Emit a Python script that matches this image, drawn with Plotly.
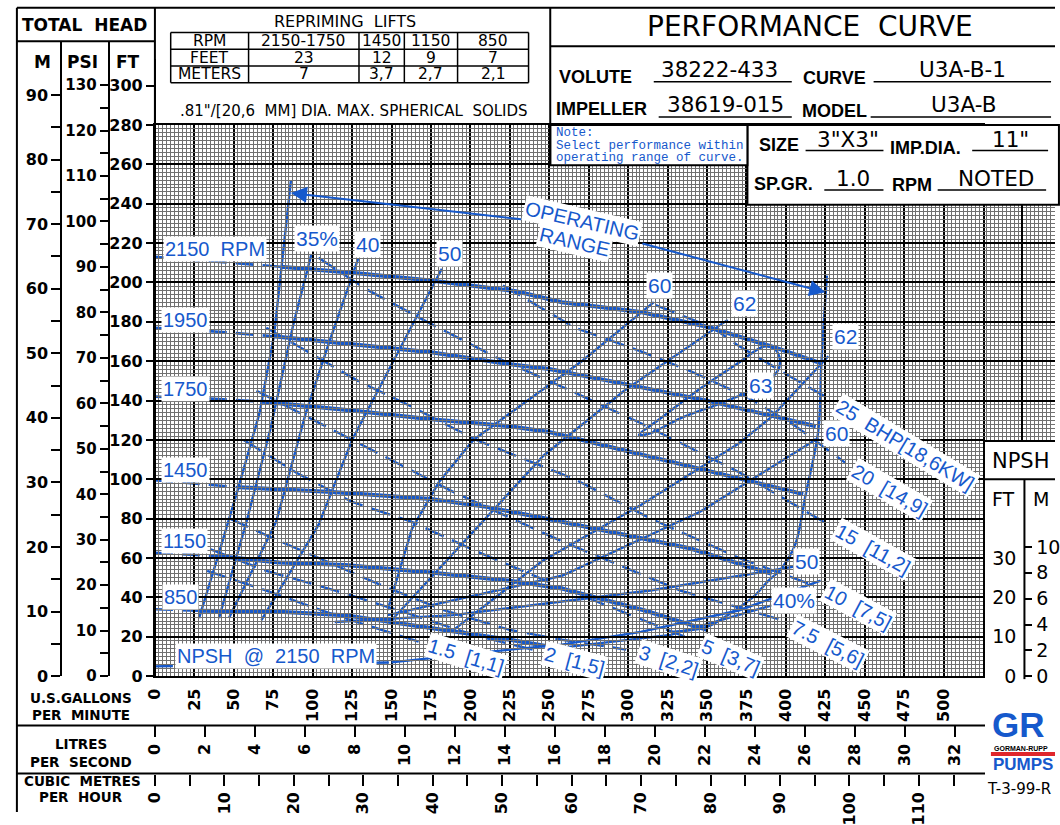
import plotly.graph_objects as go

# ------------------------------------------------------------------ data
GPM_TICKS = list(range(0, 501, 25))
LPS_TICKS = list(range(0, 33, 2))
M3H_TICKS = list(range(0, 111, 10))
M3H_MINOR = list(range(5, 116, 10))
FT_TICKS = list(range(0, 301, 20))
PSI_TICKS = list(range(0, 131, 10))
PSI_MINOR = list(range(5, 126, 10))
M_TICKS = list(range(0, 91, 10))
M_MINOR = list(range(5, 86, 10))
NPSH_FT_TICKS = [0, 10, 20, 30]
NPSH_M_TICKS = [0, 2, 4, 6, 8, 10]

# head-capacity curves (US GPM, FT); first DASH_N points form the dashed lead-in
Q_2150 = [0, 40, 80, 125, 175, 229, 258, 308, 350, 391, 422]
H_2150 = [213, 210.5, 208, 205, 201, 195.5, 190, 185, 177.5, 167.5, 159]
Q_1950 = [0, 40, 75, 125, 175, 225, 250, 297.5, 350, 419]
H_1950 = [177, 175, 172.7, 168.5, 164.5, 158.5, 156, 148.5, 140, 127]
Q_1750 = [0, 35, 67, 125, 175, 225, 250, 329, 411]
H_1750 = [142, 141, 139.5, 135, 130.5, 127, 124, 108.5, 92.5]
Q_1450 = [0, 30, 53, 112.5, 175, 210, 245.6, 339, 391]
H_1450 = [99.5, 97.5, 96, 93.5, 90, 86, 80.5, 65, 52]
Q_1150 = [0, 20, 40, 78.8, 120.6, 175, 225, 258, 310, 350]
H_1150 = [62.7, 62, 61, 57.7, 56.5, 52.7, 48.5, 44.5, 33.5, 23.5]
Q_850 = [0, 15, 28, 78.8, 120.6, 172.5, 225, 258]
H_850 = [34, 33.6, 33.3, 32.7, 31, 25, 18.5, 14]
DASH_N = [3, 3, 3, 3, 3, 3]
RPM_LABELS = ["2150  RPM", "1950", "1750", "1450", "1150", "850"]
RPM_LABEL_Q = [38, 19.5, 19.5, 19.5, 18.5, 16.5]
RPM_LABEL_H = [217, 181, 146, 104.5, 68.5, 40]

# NPSH at 2150 RPM (US GPM, NPSH FT)
NPSH_Q = [0, 75, 150, 172.5, 225, 258, 308, 370.6, 422]
NPSH_H = [2.5, 3, 3.5, 4.5, 6.75, 8, 11.25, 16.75, 24.25]
NPSH_DASH_N = 3

# operating range boundaries (US GPM, FT)
OPL_Q = [86.25, 80.6, 75.6, 66.25, 53, 40, 28]
OPL_H = [252, 209.5, 173.5, 133.5, 96, 61, 29.5]
OPR_Q = [426, 422.5, 420.6, 412.5, 406, 397.5, 389, 379, 365, 350, 327]
OPR_H = [203.5, 158.5, 125, 92, 67, 55, 48.5, 40, 32, 25, 22.5]

# efficiency contours (US GPM, FT)
E35_Q = [99.2, 87.7, 73.1, 58.1, 40.6]
E35_H = [214.4, 178.5, 125.2, 78.5, 29.5]
E40_Q = [128.8, 110, 95.6, 76.9, 46.9]
E40_H = [212, 168.5, 133.5, 78.5, 29.5]
E50_Q = [181.9, 162.5, 141.3, 125, 103.8, 67.5]
E50_H = [207, 177, 145, 120, 77, 28.5]
E60L_Q = [316.3, 270.6, 201.9, 180, 163, 147.5]
E60L_H = [190, 160, 120, 98.5, 75, 33.5]
E62L_Q = [363.1, 297.5, 246.3, 202, 149]
E62L_H = [181, 145, 112, 73.5, 27.5]
E62R_Q = [426.9, 391.3, 370.6, 308.1, 245.6, 189.4]
E62R_H = [162.5, 132, 118.5, 87, 58.5, 23.5]
E60R_Q = [420.6, 345.6, 258, 147.5]
E60R_H = [121, 83.5, 51, 31]
E50R_Q = [408, 314, 189, 114]
E50R_H = [56, 43.5, 31, 27.5]
E40R_Q = [391, 327, 258]
E40R_H = [36, 21, 14.5]
E63_Q = [306.9, 320.6, 345.6, 370.6, 386.25, 393.1, 396.25, 394.4, 380, 358.1, 333.1, 314.4, 306.9]
E63_H = [122.5, 131, 146, 159.5, 167.5, 166, 160.5, 154.5, 146, 138.5, 131, 123.5, 122.5]
EFF_LABELS = ["35%", "40", "50", "60", "62", "62", "63", "60", "50", "40%"]
EFF_LABEL_Q = [102.5, 135, 187, 320, 374, 437.5, 384, 432, 413, 405]
EFF_LABEL_H = [222.5, 219.5, 214.5, 198.5, 189.5, 172.5, 147.5, 123.5, 58.5, 38.5]

# brake horsepower lines (US GPM, FT)
B25_Q = [317.5, 353.75, 368.75, 400, 425]
B25_H = [188.5, 177, 168.5, 153.5, 142]
B20_Q = [220.6, 266.25, 308.1, 339.4, 375, 406.25, 437.5]
B20_H = [198.5, 177, 165, 155, 142, 127, 108.5]
B15_Q = [103.75, 133.1, 172.5, 216.25, 258.1, 308.1, 370.6, 426.9]
B15_H = [212.5, 197, 180, 162, 147, 128.5, 103.5, 77]
B10_Q = [70.6, 100, 128.75, 162.5, 203.75, 266.25, 314.4, 370.6, 414.4]
B10_H = [177, 163.5, 150, 137, 120, 100, 80, 60, 47]
B75_Q = [64.4, 125, 189.4, 258.1, 333.1, 397.5]
B75_H = [145, 120, 93.5, 68.5, 43.5, 28.5]
B5_Q = [56.25, 89.4, 125, 162.5, 203.75, 258.1, 340.6]
B5_H = [120, 103.5, 88.5, 78.5, 63.5, 45, 18.5]
B3_Q = [47.5, 75, 112.5, 141.25, 183.1, 225, 258.1, 298.75]
B3_H = [80, 70, 57, 47, 33.5, 23.5, 18.5, 13.5]
B2_Q = [35, 70.6, 114.4, 158.1, 201.9, 239.4]
B2_H = [64.5, 53.5, 43.5, 32.5, 21, 13.5]
B15S_Q = [33.1, 70.6, 114.4, 169.4]
B15S_H = [53.5, 43.5, 31, 17]
BHP_LABELS = ["25  BHP[18,6KW]", "20  [14,9]", "15  [11,2]", "10  [7,5]", "7.5  [5,6]",
              "5  [3,7]", "3  [2,2]", "2  [1,5]", "1.5  [1,1]"]
BHP_LABEL_Q = [475.6, 465.6, 455, 445.6, 427, 365, 325.6, 266, 197]
BHP_LABEL_H = [117.5, 94.5, 64.5, 35, 16.5, 9.5, 7.5, 7.5, 10]
BHP_LABEL_ANG = [31, 30, 29, 28, 27, 23, 18, 15, 17]

# repriming lifts table
REPRIME_RPM = ["2150-1750", "1450", "1150", "850"]
REPRIME_FEET = ["23", "12", "9", "7"]
REPRIME_METERS = ["7", "3,7", "2,7", "2,1"]

# ------------------------------------------------------------------ styling
W, HGT = 1060, 825
BLUE = "#1659cc"
BLK = "black"
MINOR = "#707070"
SANS = "DejaVu Sans"
ARIAL = "Liberation Sans"


def px(x):
    return x / W


def py(y):
    return 1 - y / HGT


XD = [px(147), px(987)]
YD = [py(687), py(127)]

fig = go.Figure()


def line(q, h, width=2.4, dash="solid", yaxis="y", shape="linear"):
    fig.add_trace(go.Scatter(x=q, y=h, mode="lines", xaxis="x", yaxis=yaxis,
                             line=dict(color=BLUE, width=width, dash=dash, shape=shape),
                             hoverinfo="skip", showlegend=False))


# head curves
for q, h, n in zip([Q_2150, Q_1950, Q_1750, Q_1450, Q_1150, Q_850],
                   [H_2150, H_1950, H_1750, H_1450, H_1150, H_850], DASH_N):
    line(q[:n], h[:n], width=2.6, dash="18px,9px")
    line(q[n - 1:], h[n - 1:], width=4)

# efficiency contours
for q, h in [(E35_Q, E35_H), (E40_Q, E40_H), (E50_Q, E50_H), (E60L_Q, E60L_H),
             (E62L_Q, E62L_H), (E62R_Q, E62R_H), (E60R_Q, E60R_H), (E50R_Q, E50R_H),
             (E40R_Q, E40R_H)]:
    line(q, h, width=2.4)
line(E63_Q, E63_H, width=2.4, shape="spline")

# operating range
line(OPL_Q, OPL_H, width=2.4)
line(OPR_Q, OPR_H, width=2.4, shape="spline")

# BHP lines
for q, h in [(B25_Q, B25_H), (B20_Q, B20_H), (B15_Q, B15_H), (B10_Q, B10_H), (B75_Q, B75_H),
             (B5_Q, B5_H), (B3_Q, B3_H), (B2_Q, B2_H), (B15S_Q, B15S_H)]:
    line(q, h, width=2.4, dash="20px,9px")

# NPSH curve
line(NPSH_Q[:NPSH_DASH_N], NPSH_H[:NPSH_DASH_N], width=2.4, dash="18px,9px", yaxis="y5")
line(NPSH_Q[NPSH_DASH_N - 1:], NPSH_H[NPSH_DASH_N - 1:], width=2.4, yaxis="y5")

# dummy traces so that the auxiliary axes get drawn
for xa, ya in [("x4", "y2"), ("x4", "y3"), ("x4", "y4"), ("x4", "y6"),
               ("x2", "y"), ("x3", "y"), ("x5", "y8")]:
    fig.add_trace(go.Scatter(x=[None], y=[None], xaxis=xa, yaxis=ya, mode="lines",
                             showlegend=False, hoverinfo="skip"))

bold16 = dict(family=SANS, size=16, color=BLK, weight="bold")
grid_major = dict(showgrid=True, gridcolor=BLK, gridwidth=2)
minor_x = dict(dtick=2.5, tick0=0, showgrid=True, gridcolor=MINOR, gridwidth=1)
minor_y = dict(dtick=2, tick0=0, showgrid=True, gridcolor=MINOR, gridwidth=1)

layout = dict(
    width=W, height=HGT, autosize=False,
    margin=dict(l=0, r=0, t=0, b=0, pad=0),
    paper_bgcolor="white", plot_bgcolor="rgba(0,0,0,0)", showlegend=False,
    xaxis=dict(domain=XD, range=[0, 525], anchor="y", tickmode="array",
               tickvals=GPM_TICKS + [525], ticktext=[str(v) for v in GPM_TICKS] + [""],
               tickangle=-90, tickfont=bold16, ticks="", ticklabelstandoff=4,
               minor=minor_x, showline=True, linecolor=BLK, linewidth=2, mirror=True,
               zeroline=False, fixedrange=True, **grid_major),
    yaxis=dict(domain=YD, range=[0, 280], anchor="x", tickmode="array",
               tickvals=list(range(0, 281, 20)), showticklabels=False, ticks="",
               minor=minor_y, showline=True, linecolor=BLK, linewidth=2, mirror=True,
               zeroline=False, fixedrange=True, **grid_major),
    # grid continuation to the right of 525 GPM
    xaxis5=dict(domain=[px(987), 1], range=[525, 570.625], anchor="y8", tickmode="array",
                tickvals=[525, 550], showticklabels=False, ticks="", minor=minor_x,
                zeroline=False, showline=False, **grid_major),
    yaxis8=dict(domain=[py(448), py(127)], range=[(687 - 448) / 2, 280], anchor="x5",
                tickmode="array", tickvals=list(range(120, 281, 20)), showticklabels=False,
                ticks="", minor=minor_y, zeroline=False, showline=False, **grid_major),
    # helper x axis for free y axes
    xaxis4=dict(domain=[0, 1], range=[0, 1], anchor="free", position=0, showgrid=False,
                showticklabels=False, showline=False, zeroline=False, ticks=""),
    # FT scale
    yaxis2=dict(domain=[YD[0], py(60)], range=[0, (687 - 60) / 2], anchor="free",
                position=px(147), side="left", tickmode="array", tickvals=FT_TICKS,
                ticks="outside", ticklen=8, tickwidth=2, tickcolor=BLK, tickfont=bold16,
                showline=True, linecolor=BLK, linewidth=2, showgrid=False, zeroline=False),
    # PSI scale
    yaxis3=dict(domain=[YD[0], py(42)], range=[0, (687 - 42) / 2 / 2.31], anchor="free",
                position=px(100), side="left", tickmode="array", tickvals=PSI_TICKS,
                ticks="outside", ticklen=8, tickwidth=2, tickcolor=BLK,
                tickfont=dict(family=SANS, size=15, color=BLK, weight="bold"),
                minor=dict(tickmode="array", tickvals=PSI_MINOR, ticks="outside", ticklen=8,
                           tickwidth=2, tickcolor=BLK),
                showline=True, linecolor=BLK, linewidth=2, showgrid=False, zeroline=False),
    # metres scale
    yaxis4=dict(domain=[YD[0], py(42)], range=[0, (687 - 42) / 2 / 3.28084], anchor="free",
                position=px(52), side="left", tickmode="array", tickvals=M_TICKS,
                ticks="outside", ticklen=9, tickwidth=2, tickcolor=BLK, tickfont=bold16,
                minor=dict(tickmode="array", tickvals=M_MINOR, ticks="outside", ticklen=9,
                           tickwidth=2, tickcolor=BLK),
                showline=True, linecolor=BLK, linewidth=2, showgrid=False, zeroline=False),
    # NPSH FT
    yaxis5=dict(domain=YD, range=[0, 140], anchor="free", position=px(1029), side="left",
                tickmode="array", tickvals=NPSH_FT_TICKS, ticks="", ticklabelstandoff=8,
                tickfont=dict(family=SANS, size=19, color=BLK), showline=False,
                showgrid=False, zeroline=False),
    # NPSH M
    yaxis6=dict(domain=YD, range=[0, 140 / 3.28084], anchor="free", position=px(1029),
                side="right", tickmode="array", tickvals=NPSH_M_TICKS, ticks="outside",
                ticklen=7, tickwidth=2, tickcolor=BLK,
                tickfont=dict(family=SANS, size=19, color=BLK), showline=False,
                showgrid=False, zeroline=False),
    # litres per second
    xaxis2=dict(domain=XD, range=[0, 525 * 0.0630902], anchor="free", position=py(737),
                side="bottom", tickmode="array", tickvals=LPS_TICKS, tickangle=-90,
                ticks="outside", ticklen=11, tickwidth=2, tickcolor=BLK, tickfont=bold16,
                showline=False, showgrid=False, zeroline=False),
    # cubic metres per hour
    xaxis3=dict(domain=XD, range=[0, 525 * 0.2271247], anchor="free", position=py(786),
                side="bottom", tickmode="array", tickvals=M3H_TICKS, tickangle=-90,
                ticks="outside", ticklen=11, tickwidth=2, tickcolor=BLK, tickfont=bold16,
                minor=dict(tickmode="array", tickvals=M3H_MINOR, ticks="outside", ticklen=11,
                           tickwidth=2, tickcolor=BLK),
                showline=False, showgrid=False, zeroline=False),
)
fig.update_layout(**layout)

shapes = []


def seg(x0, y0, x1, y1, w=2, color=BLK):
    shapes.append(dict(type="line", xref="paper", yref="paper", x0=px(x0), y0=py(y0),
                       x1=px(x1), y1=py(y1), line=dict(color=color, width=w), layer="above"))


def box(x0, y0, x1, y1, w=2, fill="white"):
    shapes.append(dict(type="rect", xref="paper", yref="paper", x0=px(x0), y0=py(y0),
                       x1=px(x1), y1=py(y1), line=dict(color=BLK, width=w),
                       fillcolor=fill, layer="above"))


# covers over grid
box(748, 127, 1064, 208)
box(548, 127, 748, 168)
# frame
seg(7, 8, 1060, 8)
seg(7, 8, 7, 825)
seg(7, 42, 147, 42)
seg(147, 8, 147, 687)
seg(548, 8, 548, 168)
seg(548, 47, 1060, 47)
# reprime table
for yy in [33, 50, 67, 84]:
    seg(163, yy, 526, yy, w=1.5)
for xx in [163, 242, 354, 400, 454, 526]:
    seg(xx, 33, xx, 84, w=1.5)
# NPSH box
seg(988, 448, 1060, 448)
seg(988, 487, 1060, 487)
seg(988, 448, 988, 688)
seg(1029, 487, 1029, 690)
# bottom rows
seg(7, 737, 989, 737)
seg(7, 786, 989, 786)
# underlines in title block
for x0, x1, yy in [(653, 793, 83), (876, 1056, 83), (658, 793, 119), (873, 1056, 119),
                   (807, 886, 153), (976, 1053, 153), (826, 886, 193), (941, 1051, 193)]:
    seg(x0, yy, x1, yy, w=1.5)
# logo stripe
shapes.append(dict(type="rect", xref="paper", yref="paper", x0=px(995), y0=py(768),
                   x1=px(1060), y1=py(764), line=dict(width=0), fillcolor="#e0262b",
                   layer="above"))

ann = []


def txt(x, y, s, size=16, family=SANS, bold=False, color=BLK, xanchor="center", angle=0):
    ann.append(dict(x=px(x), y=py(y), xref="paper", yref="paper", text=s, showarrow=False,
                    xanchor=xanchor, yanchor="middle", textangle=angle,
                    font=dict(family=family, size=size, color=color,
                              weight="bold" if bold else "normal")))


def dtxt(q, h, s, size=20, angle=0, yref="y"):
    ann.append(dict(x=q, y=h, xref="x", yref=yref, text=s, showarrow=False,
                    xanchor="center", yanchor="middle", textangle=angle,
                    bgcolor="white", borderpad=1,
                    font=dict(family=ARIAL, size=size, color=BLUE)))


# header texts
txt(76, 25, "TOTAL  HEAD", 17, bold=True)
txt(33, 63, "M", 17, bold=True)
txt(74, 63, "PSI", 17, bold=True)
txt(120, 63, "FT", 17, bold=True)
txt(340, 22, "REPRIMING  LIFTS", 16)
cols = [202.5, 298, 377, 427, 490]
for row, yy in [(["RPM"] + REPRIME_RPM, 41.5), (["FEET"] + REPRIME_FEET, 58.5),
                (["METERS"] + REPRIME_METERS, 75.5)]:
    for cx, s in zip(cols, row):
        txt(cx, yy, s, 15.5)
txt(349, 113, ".81\"/[20,6  MM] DIA. MAX. SPHERICAL  SOLIDS", 15)

txt(811, 27, "PERFORMANCE  CURVE", 28)
for x, y, s in [(594, 78, "VOLUTE"), (836, 79, "CURVE"), (600, 111, "IMPELLER"),
                (836, 113, "MODEL"), (780, 147, "SIZE"), (929, 150, "IMP.DIA."),
                (785, 187, "SP.GR."), (915, 188, "RPM")]:
    txt(x, y, s, 18, family=ARIAL, bold=True)
for x, y, s in [(720, 71, "38222-433"), (966, 71, "U3A-B-1"), (726, 106, "38619-015"),
                (967, 106, "U3A-B"), (850, 142, "3\"X3\""), (1015, 142, "11\""),
                (855, 181, "1.0"), (1000, 181, "NOTED")]:
    txt(x, y, s, 21.5)
for y, s in [(135, "Note:"), (148, "Select performance within"), (161, "operating range of curve.")]:
    txt(552, y, s, 12.5, family="Liberation Mono", color=BLUE, xanchor="left")

# bottom row titles
txt(72, 709, "U.S.GALLONS", 13.5, bold=True)
txt(72, 726, "PER  MINUTE", 13.5, bold=True)
txt(72, 756, "LITRES", 13.5, bold=True)
txt(72, 774, "PER  SECOND", 13.5, bold=True)
txt(74, 794, "CUBIC  METRES", 13.5, bold=True)
txt(72, 810, "PER  HOUR", 13.5, bold=True)

# NPSH box headers
txt(1026, 468, "NPSH", 21)
txt(1008, 507, "FT", 19)
txt(1046, 507, "M", 19)

# logo + drawing number
txt(994, 736, "GR", 35, family=ARIAL, bold=True, color=BLUE, xanchor="left")
txt(996, 760, "GORMAN-RUPP", 7, family=ARIAL, bold=True, xanchor="left")
txt(995, 777, "PUMPS", 17, family=ARIAL, bold=True, color=BLUE, xanchor="left")
txt(989, 802, "T-3-99-R", 15, xanchor="left")

# curve labels
for s, q, h in zip(RPM_LABELS, RPM_LABEL_Q, RPM_LABEL_H):
    dtxt(q, h, s, 20)
dtxt(77, 10, "NPSH  @  2150  RPM", 20)
for s, q, h in zip(EFF_LABELS, EFF_LABEL_Q, EFF_LABEL_H):
    dtxt(q, h, s, 21)
for s, q, h, a in zip(BHP_LABELS, BHP_LABEL_Q, BHP_LABEL_H, BHP_LABEL_ANG):
    dtxt(q, h, s, 20, angle=a)
dtxt(271, 231, "OPERATING", 20, angle=13)
dtxt(266, 220.5, "RANGE", 20, angle=13)

# operating range arrows
for (tq, th), (aq, ah) in [((86.25, 245.5), (233.1, 232)), ((425, 195), (308.1, 220))]:
    ann.append(dict(x=tq, y=th, ax=aq, ay=ah, xref="x", yref="y", axref="x", ayref="y",
                    text="", showarrow=True, arrowhead=2, arrowsize=1.6, arrowwidth=2,
                    arrowcolor=BLUE))

fig.update_layout(shapes=shapes, annotations=ann)
fig.write_html("out.html", config={"displayModeBar": False},
               post_script="document.body.style.margin='0px';"
                           "document.body.style.overflow='hidden';")
